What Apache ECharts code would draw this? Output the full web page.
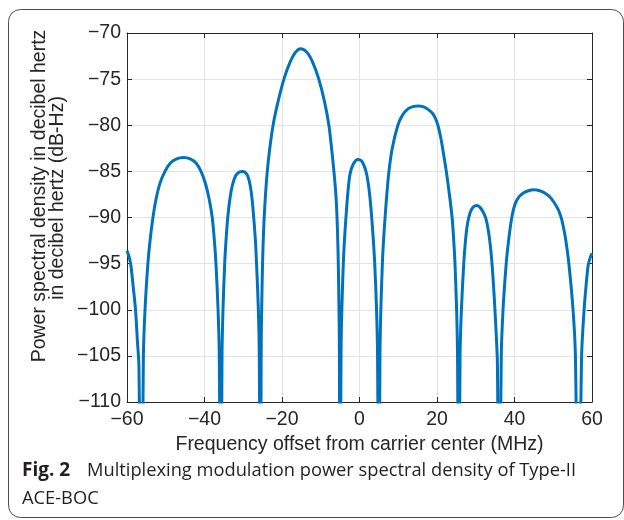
<!DOCTYPE html>
<html>
<head>
<meta charset="utf-8">
<script src="https://cdn.jsdelivr.net/npm/echarts@6/dist/echarts.min.js"></script>
<style>
html,body{margin:0;padding:0;background:#fff;}
#c{width:624px;height:520px;}
</style>
</head>
<body>
<div id="c"></div>
<script>
// Frequency offset (MHz) and PSD (dB-Hz), lobe by lobe
var freq = [
 -60,-59.5,-59.0,-58.4,-57.8,-57.3,-56.93,-56.3,
 -55.77,-55.35,-54.61,-54.05,-53.3,-52.5,-51.5,-50.2,-48.8,-47.2,-45.4,-43.7,-42.2,-40.9,-39.7,-38.8,-38.0,-37.45,-37.04,-36.5,-36.19,-35.8,
 -35.48,-35.23,-34.79,-34.45,-34.0,-33.45,-32.8,-32.0,-31.1,-30.2,-29.51,-28.83,-28.22,-27.72,-27.3,-26.86,-26.57,-26.1,-25.86,-25.55,
 -25.38,-25.25,-25.02,-24.84,-24.6,-24.25,-23.8,-23.15,-22.3,-21.05,-19.5,-18.05,-16.55,-15.2,-13.55,-12.05,-10.5,-9.0,-7.9,-7.2,-6.6,-6.1,-5.8,-5.61,-5.47,-5.29,-5.18,-5.05,
 -4.77,-4.56,-4.18,-3.89,-3.5,-3.0,-2.45,-1.6,-0.4,0.5,1.2,1.8,2.45,2.85,3.15,3.58,3.93,4.4,4.66,5.0,
 5.28,5.51,5.9,6.2,6.6,7.05,7.6,8.45,9.9,11.1,12.6,14.0,15.1,16.2,17.6,19.0,20.1,20.9,21.65,22.4,23.2,23.9,24.32,24.64,25.06,25.3,25.6,
 25.95,26.3,26.9,27.35,27.75,28.2,28.7,29.4,30.2,31.1,31.9,32.6,33.2,33.7,34.1,34.5,34.9,35.3,35.6,36.0,
 36.59,37.04,37.86,38.47,39.3,40.1,41.1,42.3,43.6,45.0,46.5,48.0,49.4,50.7,51.45,52.1,52.7,53.25,54.03,55.11,55.72,56.5,
 57.32,57.96,58.45,59.0,59.5,60
];
var psd = [
 -93.6,-94.2,-95.2,-97.5,-100,-103.5,-106,-130,
 -105,-100,-95,-92.5,-90,-88,-86.3,-85,-84.1,-83.65,-83.5,-83.65,-84.1,-85,-86.4,-88,-90,-92.5,-95,-100,-105,-130,
 -105,-100,-95,-92.5,-90,-88,-86.5,-85.5,-85.1,-85.0,-85.1,-85.5,-86.5,-88,-90,-92.5,-95,-100,-105,-130,
 -105,-100,-95,-92.5,-90,-87.5,-85,-82.5,-80,-77.5,-75,-73.3,-72.1,-71.7,-72.1,-73.2,-75,-77.5,-80,-82.5,-85,-87.5,-90,-92.5,-95,-100,-105,-130,
 -105,-100,-95,-92.5,-90,-87.3,-85.3,-84.2,-83.7,-83.85,-84.4,-85.2,-86.9,-88.5,-90,-92.5,-95,-100,-105,-130,
 -105,-100,-95,-92.5,-90,-87.5,-85,-82.5,-80,-78.9,-78.2,-77.95,-77.9,-77.95,-78.25,-78.8,-79.8,-81.2,-83.0,-85,-87.5,-90,-92.5,-95,-100,-105,-130,
 -105,-100,-95,-92.5,-91,-90,-89.3,-88.85,-88.7,-88.9,-89.4,-90.1,-91.3,-92.8,-94.5,-96.8,-99.6,-102.8,-106,-130,
 -105,-100,-95,-92.5,-90,-88.6,-87.8,-87.35,-87.1,-87.0,-87.1,-87.4,-87.9,-88.7,-89.3,-90.1,-91.2,-92.5,-95,-100,-105,-130,
 -105,-100,-97.5,-95.2,-94.4,-93.9
];
var xTicks = [-60,-40,-20,0,20,40,60];
var yTicks = [-110,-105,-100,-95,-90,-85,-80,-75,-70];
var xName = 'Frequency offset from carrier center (MHz)';
var yName1 = 'Power spectral density in decibel hertz';
var yName2 = 'in decibel hertz (dB-Hz)';
var capBold = 'Fig. 2';
var capLine1 = 'Multiplexing modulation power spectral density of Type-II';
var capLine2 = 'ACE-BOC';

var data = freq.map(function(f,i){return [f, psd[i]];});
var minus = function(v){return String(v).replace('-', '\u2212');};
var FONT = '"Liberation Sans", Arial, sans-serif';
var AX = '#262626';

var baseX = {type:'value', min:xTicks[0], max:xTicks[xTicks.length-1], interval:20};
var baseY = {type:'value', min:yTicks[0], max:yTicks[yTicks.length-1], interval:5};

var chart = echarts.init(document.getElementById('c'), null, {renderer:'canvas'});
chart.setOption({
  animation:false,
  backgroundColor:'#fff',
  grid:{left:127, right:32, top:33, bottom:118, containLabel:false},
  xAxis:[
    Object.assign({}, baseX, {
      position:'bottom',
      name:xName, nameLocation:'middle', nameGap:32,
      nameTextStyle:{fontFamily:FONT, fontSize:19.5, color:AX},
      axisLine:{show:true, onZero:false, lineStyle:{color:AX, width:1}},
      axisTick:{show:true, inside:true, length:5, lineStyle:{color:AX}},
      axisLabel:{show:true, margin:8, fontFamily:FONT, fontSize:19.5, color:AX, formatter:minus},
      splitLine:{show:true, lineStyle:{color:'#e3e3e3', width:1}}
    }),
    Object.assign({}, baseX, {
      position:'top',
      axisLine:{show:true, onZero:false, lineStyle:{color:AX, width:1}},
      axisTick:{show:true, inside:true, length:5, lineStyle:{color:AX}},
      axisLabel:{show:false},
      splitLine:{show:false}
    })
  ],
  yAxis:[
    Object.assign({}, baseY, {
      position:'left',
      axisLine:{show:true, onZero:false, lineStyle:{color:AX, width:1}},
      axisTick:{show:true, inside:true, length:5, lineStyle:{color:AX}},
      axisLabel:{show:true, margin:6, fontFamily:FONT, fontSize:19.5, color:AX, formatter:minus},
      splitLine:{show:true, lineStyle:{color:'#e3e3e3', width:1}}
    }),
    Object.assign({}, baseY, {
      position:'right',
      axisLine:{show:true, onZero:false, lineStyle:{color:AX, width:1}},
      axisTick:{show:true, inside:true, length:5, lineStyle:{color:AX}},
      axisLabel:{show:false},
      splitLine:{show:false}
    })
  ],
  series:[{
    type:'line',
    data:data,
    xAxisIndex:0, yAxisIndex:0,
    showSymbol:false,
    smooth:0.3,
    clip:true,
    lineStyle:{color:'#0072BD', width:3},
    z:5
  }],
  graphic:[
    {type:'rect', left:6, top:7, shape:{x:0.5,y:0.5,width:615,height:508,r:12},
     style:{fill:'none', stroke:'#4d4d4d', lineWidth:1}, z:-1},
    {type:'text', x:40, y:196, rotation:Math.PI/2,
     style:{text:yName1, font:'19.5px "Liberation Sans", Arial, sans-serif', fill:AX, textAlign:'center', textVerticalAlign:'middle'}},
    {type:'text', x:58, y:198, rotation:Math.PI/2,
     style:{text:yName2, font:'19.5px "Liberation Sans", Arial, sans-serif', fill:AX, textAlign:'center', textVerticalAlign:'middle'}},
    {type:'text', x:22, y:471,
     style:{text:capBold, font:'bold 19px "Open Sans", "Noto Sans", sans-serif', fill:'#231f20', textAlign:'left', textVerticalAlign:'middle'}},
    {type:'text', x:87, y:471,
     style:{text:capLine1, font:'18.3px "Open Sans", "Noto Sans", sans-serif', fill:'#231f20', textAlign:'left', textVerticalAlign:'middle'}},
    {type:'text', x:22, y:499,
     style:{text:capLine2, font:'18.3px "Open Sans", "Noto Sans", sans-serif', fill:'#231f20', textAlign:'left', textVerticalAlign:'middle'}}
  ]
});
</script>
</body>
</html>
